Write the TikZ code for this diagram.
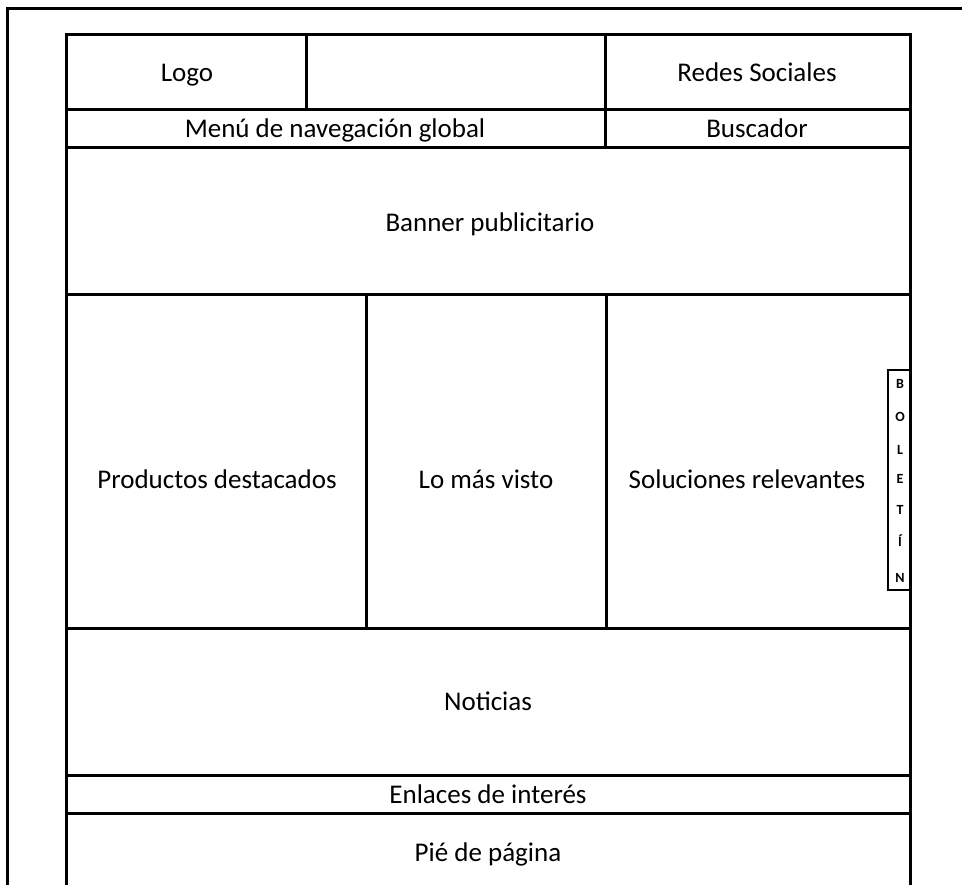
\documentclass[tikz,border=0pt]{standalone}
\usepackage{fontspec}
\setmainfont{Carlito}
\begin{document}
\begin{tikzpicture}[x=1pt,y=-1pt,
  ln/.style={line width=3pt,black},
  thin/.style={line width=2.5pt,black},
  lbl/.style={font=\fontsize{27}{30}\selectfont,inner sep=0pt,anchor=base},
  let/.style={font=\fontsize{14}{16}\selectfont\bfseries,inner sep=0pt,anchor=base}]
\useasboundingbox (0,0) rectangle (962,885);
% outer frame
\draw[ln] (7,885) -- (7,9) -- (962,9);
% inner frame
\draw[ln] (66,885) -- (66,35) -- (910,35) -- (910,885);
% horizontal rows
\draw[ln] (66,110) -- (910,110);
\draw[ln] (66,148) -- (910,148);
\draw[ln] (66,295) -- (910,295);
\draw[ln] (66,628) -- (910,628);
\draw[ln] (66,775) -- (910,775);
\draw[ln] (66,813) -- (910,813);
% vertical dividers
\draw[ln] (306,35) -- (306,110);
\draw[ln] (605,35) -- (605,148);
\draw[ln] (366,295) -- (366,628);
\draw[ln] (606,295) -- (606,628);
% boletin box
\draw[thin] (910,370) -- (888,370) -- (888,590) -- (910,590);
% labels
\node[lbl] (logo) at (187,82) {Logo};
\node[lbl] (redes) at (757,82) {Redes Sociales};
\node[lbl] (menu) at (335,138) {Menú de navegación global};
\node[lbl] (busc) at (757,138) {Buscador};
\node[lbl] (banner) at (490,232) {Banner publicitario};
\node[lbl] (prod) at (217,488) {Productos destacados};
\node[lbl] (visto) at (486,488) {Lo más visto};
\node[lbl] (sol) at (747,488) {Soluciones relevantes};
\node[lbl] (noti) at (488,710) {Noticias};
\node[lbl] (enl) at (488,803) {Enlaces de interés};
\node[lbl] (pie) at (488,861) {Pié de página};
% boletin letters
\node[let] (b1) at (900,389) {B};
\node[let] (b2) at (900,422) {O};
\node[let] (b3) at (900,454) {L};
\node[let] (b4) at (900,483) {E};
\node[let] (b5) at (900,514) {T};
\node[let] (b6) at (900,546) {Í};
\node[let] (b7) at (900,582) {N};
\end{tikzpicture}
\end{document}
